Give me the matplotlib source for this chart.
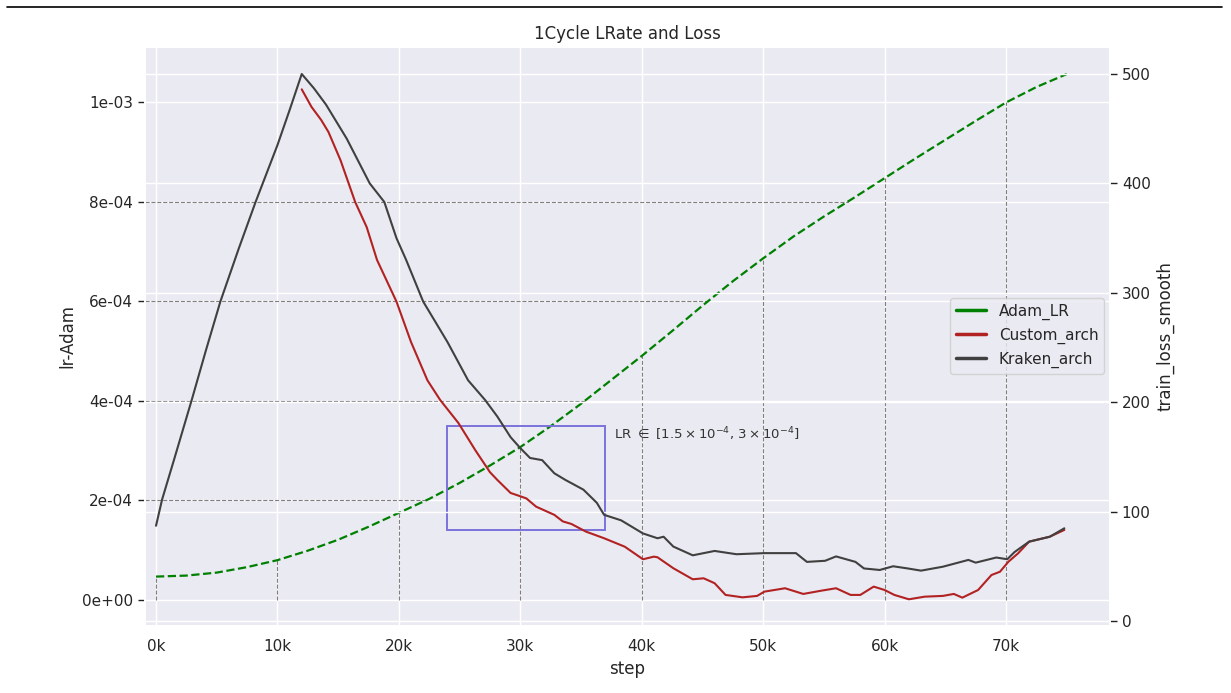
import numpy as np
import matplotlib
matplotlib.use('Agg')
import matplotlib.pyplot as plt
import seaborn as sns
from matplotlib.lines import Line2D
from matplotlib.patches import Rectangle
from matplotlib.ticker import FuncFormatter

sns.set_theme(style='darkgrid')
plt.rcParams['font.family'] = ['DejaVu Sans']

# Adam learning rate schedule (step, lr)
lr_steps = [0, 2500, 5000, 7500, 10000, 12500, 15000, 17500, 20000, 22500, 25000,
            27500, 30000, 32500, 35000, 37500, 40000, 42500, 45000, 47500, 50000,
            52500, 55000, 57500, 60000, 62500, 65000, 67500, 70000, 72500, 75000]
lr_values = [0.047, 0.049, 0.055, 0.066, 0.080, 0.099, 0.121, 0.147, 0.175, 0.203, 0.235,
             0.270, 0.307, 0.349, 0.394, 0.442, 0.490, 0.540, 0.591, 0.640, 0.686,
             0.730, 0.770, 0.808, 0.847, 0.886, 0.924, 0.962, 0.999, 1.030, 1.056]
lr_values = [v * 1e-3 for v in lr_values]

# Kraken_arch smoothed train loss (steps in k)
kraken_steps = [0, 0.5, 1.5, 2.94, 4.1, 5.3, 6.8, 8.2, 10.0, 11.0, 12.0, 13.0, 14.0, 15.7,
                17.6, 18.8, 19.8, 20.6, 22.0, 24.0, 25.7, 27.1, 28.1, 29.2, 30.0,
                30.8, 31.8, 32.8, 33.7, 35.2, 36.3, 36.9, 38.3, 40.1, 41.3, 41.8,
                42.6, 44.2, 46.0, 47.8, 50.1, 52.7, 53.6, 55.1, 56.0, 57.6, 58.3,
                59.6, 60.7, 61.9, 63.0, 64.8, 66.9, 67.5, 69.2, 70.1, 70.7, 71.9,
                73.6, 74.8]
kraken_loss = [87, 111, 148, 202, 247, 292, 340, 383, 435, 467, 500, 487, 472, 441,
               400, 383, 350, 330, 292, 255, 220, 202, 187, 168, 158,
               149, 147, 135, 129, 120, 108, 97, 92, 80, 75.6, 77,
               68, 60, 64, 61, 62, 62, 54, 55, 59, 54, 48,
               46.6, 50, 48, 46, 49.6, 55.8, 53.3, 58, 56.4, 63, 72.5,
               77, 84.7]

# Custom_arch smoothed train loss (steps in k)
custom_steps = [12.0, 12.8, 13.6, 14.2, 15.2, 16.4, 17.35, 18.2, 19.8, 21.0, 22.35,
                23.4, 24.9, 26.3, 27.5, 28.1, 29.2, 30.1, 30.5, 31.3, 32.8, 33.5,
                34.2, 35.4, 36.9, 38.6, 40.1, 41.0, 41.3, 42.6, 44.2, 45.1, 46.0,
                46.9, 48.3, 49.5, 50.1, 51.8, 53.3, 54.8, 56.0, 57.2, 58.0, 59.1,
                60.0, 60.8, 62.0, 63.3, 64.8, 65.7, 66.4, 67.7, 68.8, 69.5, 70.2,
                71.0, 71.9, 73.6, 74.8]
custom_loss = [486, 470, 458, 447, 421, 383, 360, 330, 292, 255, 220,
               202, 181, 156, 136, 129, 117, 113.6, 112, 104.5, 97, 91,
               88.7, 81.7, 75.6, 67.9, 56.4, 58.8, 58.2, 48.2, 38.1, 39, 34.5,
               23.8, 21.6, 22.9, 26.8, 29.9, 24.7, 27.7, 29.9, 23.8, 23.8, 31.4,
               28.3, 23.8, 19.8, 22.2, 22.9, 24.7, 21.3, 28.3, 42, 45, 54.2,
               61.9, 72.5, 77, 83.2]

kraken_steps = [s * 1000 for s in kraken_steps]
custom_steps = [s * 1000 for s in custom_steps]

step_marks = [0, 10000, 20000, 30000, 40000, 50000, 60000, 70000]
lr_marks = [2e-4, 4e-4, 6e-4, 8e-4]

fig = plt.figure(figsize=(12.31, 6.93), dpi=100)
ax = fig.add_axes([0.1178, 0.0967, 0.7839, 0.8355])
ax2 = ax.twinx()

xmin, xmax = -906, 78560
ax.set_xlim(xmin, xmax)
ax.set_ylim(-0.0522e-3, 1.1104e-3)
ax2.set_ylim(-4.6, 524.7)

# Learning rate curve
ax.plot(lr_steps, lr_values, color='green', linestyle='--', linewidth=1.6, zorder=3)

# Helper lines down to the axis / across to the curve
for s in step_marks:
    ax.vlines(s, 0, np.interp(s, lr_steps, lr_values), colors='gray',
              linestyles='--', linewidth=0.8, zorder=2)
for v in lr_marks:
    ax.hlines(v, xmin, np.interp(v, lr_values, lr_steps), colors='gray',
              linestyles='--', linewidth=0.8, zorder=2)

# Region box and label
ax.add_patch(Rectangle((24000, 1.4e-4), 13000, 2.1e-4, fill=False,
                       edgecolor='#7b72dc', linewidth=1.4, zorder=4))
ax.text(37700, 3.33e-4, r'LR $\in$ [$1.5\times10^{-4}$, $3\times10^{-4}$]',
        fontsize=9.5, color='#333333', va='center', ha='left')

# Losses on right axis
ax2.plot(custom_steps, custom_loss, color='#b22222', linewidth=1.5)
ax2.plot(kraken_steps, kraken_loss, color='#404040', linewidth=1.5)

ax.xaxis.set_major_formatter(FuncFormatter(lambda x, p: '%dk' % (x / 1000)))
ax.set_xticks(step_marks)
ax.set_yticks([0, 2e-4, 4e-4, 6e-4, 8e-4, 1e-3])
ax.yaxis.set_major_formatter(FuncFormatter(lambda y, p: '%.0e' % y))
ax2.set_yticks([0, 100, 200, 300, 400, 500])

ax.tick_params(axis='y', left=True, length=5, width=1, color='#222222', labelsize=11)
ax.tick_params(axis='x', labelsize=11)
ax2.tick_params(axis='y', right=True, length=5, width=1, color='#222222', labelsize=11)
ax2.grid(True, color='white')

ax.set_xlabel('step', fontsize=12)
ax.set_ylabel('lr-Adam', fontsize=12)
ax2.set_ylabel('train_loss_smooth', fontsize=12)
ax.set_title('1Cycle LRate and Loss', fontsize=12)

handles = [Line2D([], [], color='green', linewidth=2.5),
           Line2D([], [], color='#b22222', linewidth=2.5),
           Line2D([], [], color='#404040', linewidth=2.5)]
ax2.legend(handles, ['Adam_LR', 'Custom_arch', 'Kraken_arch'], loc='upper left',
           bbox_to_anchor=(0.834, 0.567), borderaxespad=0, fontsize=11)

# Page rule at the top of the crop
fig.add_artist(Line2D([0.006, 0.993], [1 - 7 / 693, 1 - 7 / 693],
                      color='black', linewidth=1.2))

plt.savefig('out.png', dpi=100)
